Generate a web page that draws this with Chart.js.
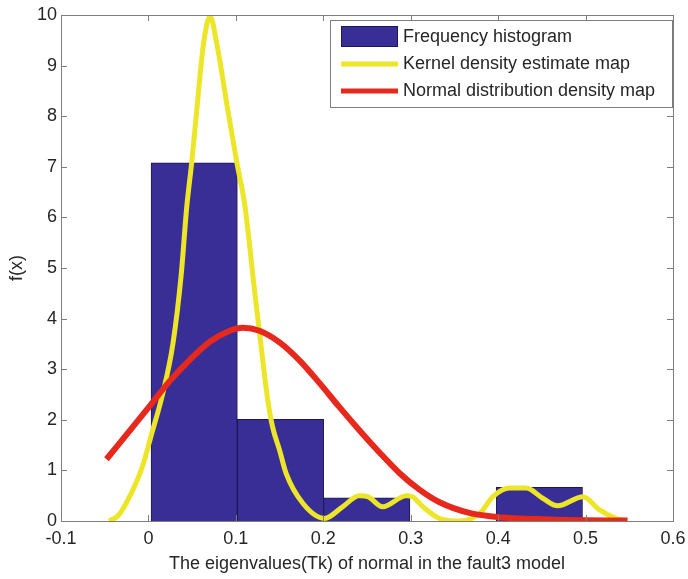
<!DOCTYPE html>
<html>
<head>
<meta charset="utf-8">
<script src="https://cdn.jsdelivr.net/npm/chart.js@4/dist/chart.umd.min.js"></script>
<style>
  html, body { margin: 0; padding: 0; background: #ffffff; }
  #wrap { width: 688px; height: 579px; }
</style>
</head>
<body>
<div id="wrap"><canvas id="chart" width="688" height="579"></canvas></div>
<script>
// Histogram bins (edges) and their density heights
const binEdges = [0.003, 0.1017, 0.2004, 0.2991, 0.3978, 0.4965];
const binHeights = [7.08, 2.01, 0.46, 0, 0.665];

// Kernel density estimate curve
const kdeX = [-0.045, -0.035, -0.0255, -0.007, 0.003, 0.0164, 0.028, 0.0374, 0.0438, 0.0496,
  0.0553, 0.063, 0.0706, 0.0782, 0.0908, 0.101, 0.1106, 0.1205, 0.129, 0.1365,
  0.142, 0.15, 0.1575, 0.1766, 0.2014, 0.222, 0.241, 0.251, 0.268, 0.2948,
  0.302, 0.314, 0.333, 0.356, 0.379, 0.394, 0.413, 0.432, 0.451, 0.468,
  0.497, 0.516, 0.535, 0.547];
const kdeY = [0.0, 0.1, 0.35, 1.07, 1.68, 2.52, 3.5, 4.85, 6.2, 7.1,
  8.12, 9.43, 9.97, 9.43, 8.12, 7.1, 6.2, 4.69, 3.44, 2.39,
  1.86, 1.4, 0.94, 0.35, 0.05, 0.28, 0.5, 0.48, 0.28, 0.5,
  0.48, 0.28, 0.05, 0.0, 0.15, 0.48, 0.65, 0.65, 0.45, 0.3,
  0.48, 0.22, 0.05, 0.0];

// Normal distribution density curve
const normX = [-0.048, 0.0, 0.024, 0.047, 0.07, 0.093, 0.108, 0.127, 0.15, 0.173,
  0.196, 0.218, 0.241, 0.264, 0.287, 0.31, 0.333, 0.367, 0.405, 0.444,
  0.48, 0.548];
const normY = [1.22, 2.24, 2.76, 3.18, 3.54, 3.76, 3.82, 3.76, 3.53, 3.17,
  2.72, 2.26, 1.8, 1.36, 0.95, 0.62, 0.37, 0.16, 0.07, 0.04,
  0.02, 0.01];

// Axis ticks
const xTicks = [-0.1, 0, 0.1, 0.2, 0.3, 0.4, 0.5, 0.6];
const yTicks = [0, 1, 2, 3, 4, 5, 6, 7, 8, 9, 10];

const seriesLabels = ['Frequency histogram', 'Kernel density estimate map', 'Normal distribution density map'];
const axisTitles = { x: 'The eigenvalues(Tk) of normal in the fault3 model', y: 'f(x)' };

const FONT = 'Liberation Sans, Arial, Helvetica, sans-serif';
const TEXT = '#262626';
const AXIS = '#7d7d7d';

const histData = binHeights.map((h, i) => ({ x: (binEdges[i] + binEdges[i + 1]) / 2, y: h }));
const kdeData = kdeX.map((x, i) => ({ x, y: kdeY[i] }));
const normData = normX.map((x, i) => ({ x, y: normY[i] }));

// MATLAB-style box with inward tick marks on all four sides
const boxAxes = {
  id: 'boxAxes',
  afterDatasetsDraw(chart) {
    const { ctx, chartArea: a, scales } = chart;
    const len = 6;
    ctx.save();
    ctx.strokeStyle = AXIS;
    ctx.lineWidth = 1;
    ctx.beginPath();
    xTicks.forEach(v => {
      const px = Math.round(scales.x.getPixelForValue(v)) + 0.5;
      ctx.moveTo(px, a.bottom); ctx.lineTo(px, a.bottom - len);
      ctx.moveTo(px, a.top); ctx.lineTo(px, a.top + len);
    });
    yTicks.forEach(v => {
      const py = Math.round(scales.y.getPixelForValue(v)) + 0.5;
      ctx.moveTo(a.left, py); ctx.lineTo(a.left + len, py);
      ctx.moveTo(a.right, py); ctx.lineTo(a.right - len, py);
    });
    ctx.stroke();
    ctx.strokeRect(Math.round(a.left) + 0.5, Math.round(a.top) + 0.5,
      Math.round(a.right - a.left), Math.round(a.bottom - a.top));
    ctx.restore();
  }
};

// Boxed legend in the upper-right corner of the plot
const boxLegend = {
  id: 'boxLegend',
  afterDraw(chart) {
    const { ctx, chartArea: a } = chart;
    const bx = Math.round(a.right) - 343, by = Math.round(a.top) + 5, bw = 342, bh = 87;
    ctx.save();
    ctx.fillStyle = '#ffffff';
    ctx.fillRect(bx, by, bw, bh);
    ctx.strokeStyle = AXIS;
    ctx.lineWidth = 1;
    ctx.strokeRect(bx + 0.5, by + 0.5, bw, bh);
    const sx = bx + 11, sw = 57, tx = bx + 73;
    const rows = [by + 17, by + 44, by + 71];
    ctx.font = '18px ' + FONT;
    ctx.textBaseline = 'middle';
    chart.data.datasets.forEach((ds, i) => {
      const y = rows[i];
      if (ds.type === 'bar') {
        ctx.fillStyle = ds.backgroundColor;
        ctx.fillRect(sx, y - 11, sw, 21);
        ctx.strokeStyle = ds.borderColor;
        ctx.strokeRect(sx + 0.5, y - 10.5, sw - 1, 20);
      } else {
        ctx.strokeStyle = ds.borderColor;
        ctx.lineWidth = 5;
        ctx.beginPath();
        ctx.moveTo(sx, y); ctx.lineTo(sx + sw, y);
        ctx.stroke();
        ctx.lineWidth = 1;
      }
      ctx.fillStyle = TEXT;
      ctx.fillText(ds.label, tx, y);
    });
    ctx.restore();
  }
};

new Chart(document.getElementById('chart'), {
  type: 'bar',
  data: {
    datasets: [
      {
        type: 'bar',
        label: seriesLabels[0],
        data: histData,
        backgroundColor: '#382e96',
        borderColor: '#1d1855',
        borderWidth: 1,
        borderSkipped: 'start',
        barPercentage: 1,
        categoryPercentage: 1,
        grouped: false,
        order: 3
      },
      {
        type: 'line',
        label: seriesLabels[1],
        data: kdeData,
        borderColor: '#ede628',
        borderWidth: 5,
        pointRadius: 0,
        cubicInterpolationMode: 'monotone',
        fill: false,
        order: 2
      },
      {
        type: 'line',
        label: seriesLabels[2],
        data: normData,
        borderColor: '#e6291c',
        borderWidth: 6,
        pointRadius: 0,
        cubicInterpolationMode: 'monotone',
        fill: false,
        order: 1
      }
    ]
  },
  options: {
    responsive: false,
    animation: false,
    devicePixelRatio: 1,
    layout: { padding: { top: 15, right: 15, left: 0, bottom: 0 } },
    plugins: { legend: { display: false }, tooltip: { enabled: false } },
    scales: {
      x: {
        type: 'linear',
        min: -0.1, max: 0.6,
        offset: false,
        afterBuildTicks(scale) { scale.ticks = xTicks.map(v => ({ value: v })); },
        afterFit(scale) { scale.height = 58; scale.paddingLeft = 0; scale.paddingRight = 0; },
        grid: { display: false, drawTicks: false },
        border: { display: false },
        ticks: {
          color: TEXT, font: { family: FONT, size: 18 }, padding: 7,
          maxRotation: 0, autoSkip: false,
          callback: v => String(Number(v.toFixed(1)))
        },
        title: {
          display: true, text: axisTitles.x, color: TEXT,
          font: { family: FONT, size: 18 }, padding: { top: 4, bottom: 4 }
        }
      },
      y: {
        type: 'linear',
        min: 0, max: 10,
        afterBuildTicks(scale) { scale.ticks = yTicks.map(v => ({ value: v })); },
        afterFit(scale) { scale.width = 61; scale.paddingTop = 0; scale.paddingBottom = 0; },
        grid: { display: false, drawTicks: false },
        border: { display: false },
        ticks: { color: TEXT, font: { family: FONT, size: 18 }, padding: 4, autoSkip: false },
        title: {
          display: true, text: axisTitles.y, color: TEXT,
          font: { family: FONT, size: 18 }, padding: { top: 6, bottom: 6 }
        }
      }
    }
  },
  plugins: [boxAxes, boxLegend]
});
</script>
</body>
</html>
